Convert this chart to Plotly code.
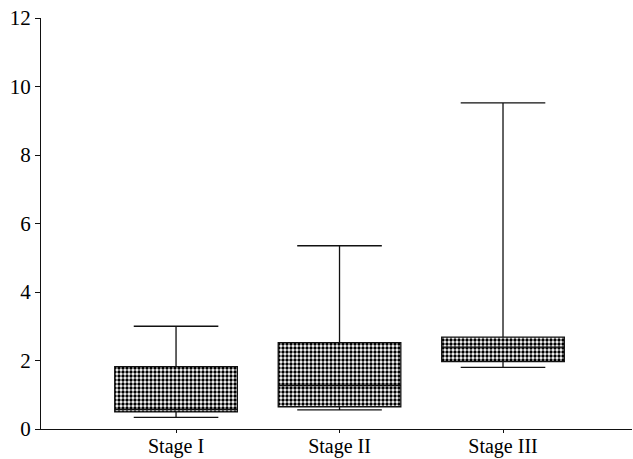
import plotly.graph_objects as go

# Summary statistics per stage
stages = ["Stage I", "Stage II", "Stage III"]
lower_whisker = [0.34, 0.56, 1.80]
q1 = [0.50, 0.65, 1.97]
median = [0.57, 1.27, 2.39]
q3 = [1.82, 2.52, 2.68]
upper_whisker = [3.00, 5.35, 9.52]

y_ticks = [0, 2, 4, 6, 8, 10, 12]

box_width = 0.75
ink = "#111111"

fig = go.Figure()

# Dotted texture filling each inter-quartile box
fig.add_trace(go.Bar(
    x=stages,
    y=[b - a for a, b in zip(q1, q3)],
    base=q1,
    width=box_width,
    marker=dict(
        color="white",
        line=dict(width=0),
        pattern=dict(shape=".", fgcolor="#000000", bgcolor="white",
                     size=4, solidity=0.55, fillmode="replace"),
    ),
    showlegend=False,
    hoverinfo="skip",
))

# Box outlines, medians and capped whiskers
fig.add_trace(go.Box(
    x=stages,
    q1=q1,
    median=median,
    q3=q3,
    lowerfence=lower_whisker,
    upperfence=upper_whisker,
    width=box_width,
    whiskerwidth=0.69,
    fillcolor="rgba(0,0,0,0)",
    line=dict(color=ink, width=1.3),
    boxpoints=False,
    showlegend=False,
))

fig.update_layout(
    width=633,
    height=459,
    margin=dict(l=41, r=1, t=18, b=30),
    paper_bgcolor="white",
    plot_bgcolor="white",
    font=dict(family="Liberation Serif", size=20, color="black"),
    showlegend=False,
    xaxis=dict(
        type="category",
        range=[-0.826, 2.789],
        automargin=False,
        showgrid=False,
        zeroline=False,
        showline=True,
        linecolor=ink,
        linewidth=1,
        ticks="outside",
        ticklen=3,
        tickcolor=ink,
        ticklabelstandoff=-4,
        tickfont=dict(family="Liberation Serif", size=20, color="black"),
    ),
    yaxis=dict(
        range=[0, 12],
        tickvals=y_ticks,
        automargin=False,
        showgrid=False,
        zeroline=False,
        showline=True,
        linecolor=ink,
        linewidth=1,
        ticks="outside",
        ticklen=5,
        tickcolor=ink,
        tickfont=dict(family="Liberation Serif", size=21, color="black"),
    ),
)

fig.write_html("out.html")
